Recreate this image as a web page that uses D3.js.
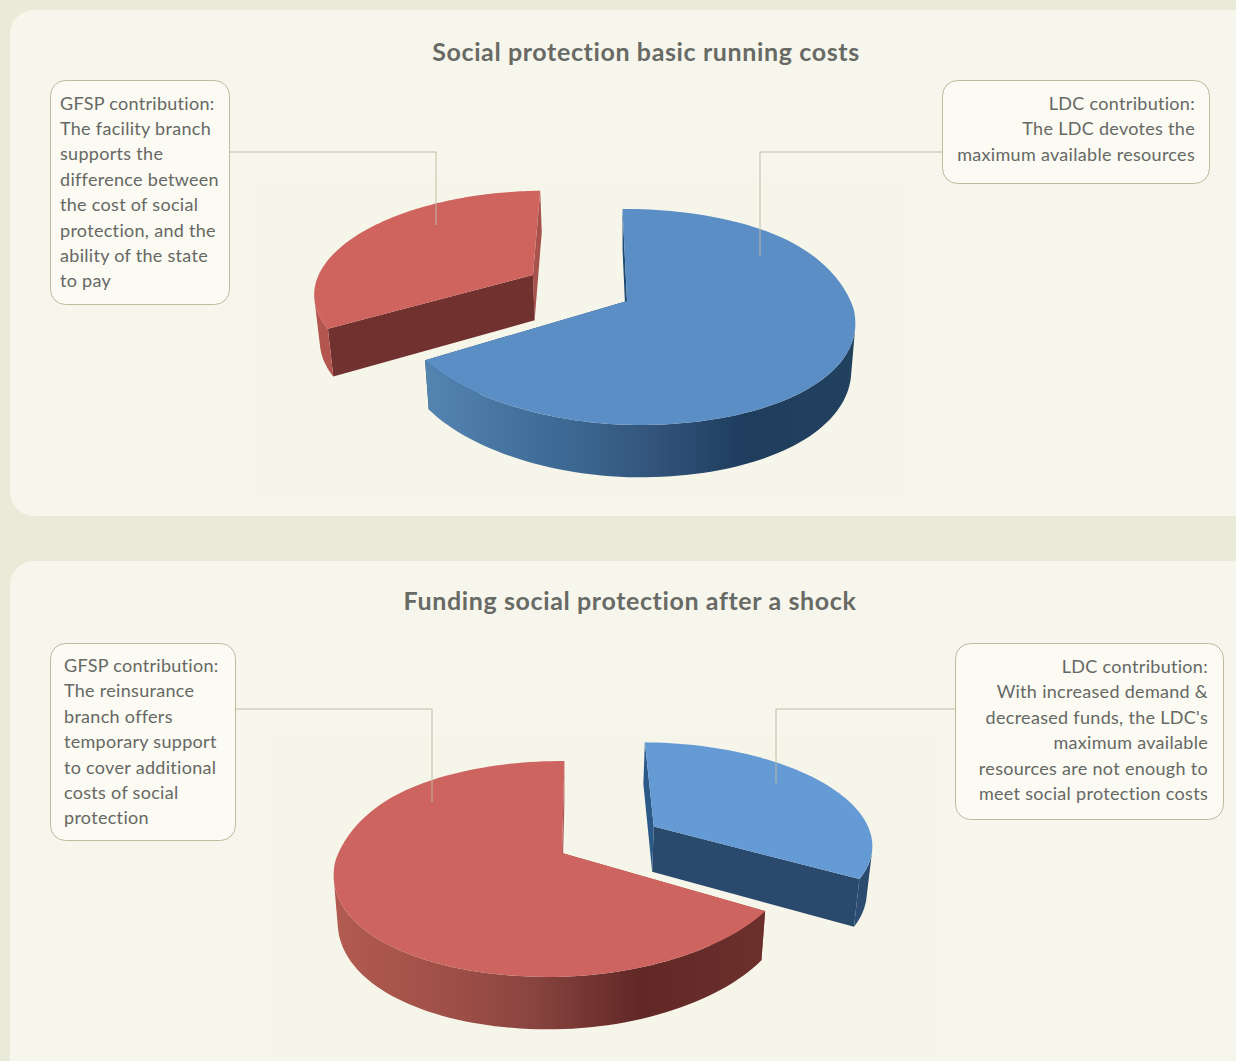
<!DOCTYPE html>
<html>
<head>
<meta charset="utf-8">
<script src="https://cdnjs.cloudflare.com/ajax/libs/d3/7.8.5/d3.min.js"></script>
<style>
html, body { margin: 0; padding: 0; background: #eaead8; overflow: hidden; }
svg { display: block; }
text { font-family: Lato, sans-serif; fill: #666864; }
.title { font-size: 25px; font-weight: 700; letter-spacing: 0.62px; text-anchor: middle; fill: #686a65; }
.note { font-size: 18px; letter-spacing: 0.3px; }
</style>
</head>
<body>
<script>
// values, share of the cost (blue = LDC, red = GFSP)
const titles = ['Social protection basic running costs', 'Funding social protection after a shock']
const ldcValues = [66.7, 33.3]
const gfspValues = [33.3, 66.7]

const gfspNotes = [
    ['GFSP contribution:', 'The facility branch', 'supports the', 'difference between', 'the cost of social', 'protection, and the', 'ability of the state', 'to pay'],
    ['GFSP contribution:', 'The reinsurance', 'branch offers', 'temporary support', 'to cover additional', 'costs of social', 'protection']
]
const ldcNotes = [
    ['LDC contribution:', 'The LDC devotes the', 'maximum available resources'],
    ['LDC contribution:', 'With increased demand &', 'decreased funds, the LDC\'s', 'maximum available', 'resources are not enough to', 'meet social protection costs']
]

const width = 1236, height = 1061
const svg = d3.select('body').append('svg').attr('width', width).attr('height', height)
const defs = svg.append('defs')

// cards behind each panel
const cards = [{y: 10, h: 506}, {y: 561, h: 540}]
svg.selectAll('rect.card').data(cards).enter().append('rect')
    .attr('class', 'card')
    .attr('x', 10).attr('y', d => d.y)
    .attr('width', 1260).attr('height', d => d.h)
    .attr('rx', 24)
    .attr('fill', '#f7f6ec')

// layout of each panel
const panels = [
    {
        titleX: 646, titleY: 61,
        back: {x: 250, y: 180, w: 660, h: 320},
        cx: 627, cy: 301, start: -1.3, tilt: 1,
        explode: {blue: null, red: [-0.43, -0.255]},
        topBlue: '#5c8ec6', topRed: '#cf645f',
        cutBlue: '#1f4a73', cutRed: ['#a8524e', '#71312e'],
        wallBlue: [[424, '#5484b0'], [560, '#3d6a95'], [650, '#33557c'], [740, '#1f3e5f'], [855, '#22415f']],
        wallRed: [[317, '#b5554f'], [340, '#b5554f']],
        gfsp: {x: 50, y: 80, w: 179, h: 224, tx: 60, ty: 109.5, anchor: 'start', lead: [[229, 152], [436, 152], [436, 225]]},
        ldc: {x: 942, y: 80, w: 267, h: 103, tx: 1195, ty: 110, anchor: 'end', lead: [[942, 152], [760, 152], [760, 256]]}
    },
    {
        titleX: 630, titleY: 610,
        back: {x: 270, y: 735, w: 670, h: 320},
        cx: 562, cy: 853, start: 0.7, tilt: -1,
        explode: {blue: [0.42, -0.26], red: null},
        topBlue: '#659bd5', topRed: '#cd645f',
        cutBlue: ['#2a4a6d', '#2b5a88'], cutRed: '#a8524e',
        wallBlue: [[840, '#2f5278'], [870, '#2a4a6d']],
        wallRed: [[332, '#b25b51'], [450, '#9f4f47'], [530, '#8a4540'], [640, '#612826'], [763, '#6b302c']],
        gfsp: {x: 50, y: 643, w: 185, h: 197, tx: 64, ty: 672, anchor: 'start', lead: [[235, 709], [432, 709], [432, 802]]},
        ldc: {x: 955, y: 643, w: 268, h: 176, tx: 1208, ty: 673, anchor: 'end', lead: [[955, 709], [776, 709], [776, 783]]}
    }
]

const R = 227, Ry = 105.6, k = 0.148, shrink = 0.982, depth = 46.5, depthGrow = 5
const bulgeX = 13, bulgeY = 10
const line = d3.line()

panels.forEach((p, i) => {
    svg.append('rect')
        .attr('x', p.back.x).attr('y', p.back.y)
        .attr('width', p.back.w).attr('height', p.back.h)
        .attr('fill', '#f6f5ea')

    svg.append('text').attr('class', 'title')
        .attr('x', p.titleX).attr('y', p.titleY)
        .text(titles[i])

    // pie angles, blue first then red, clockwise from the top
    const start = p.start * Math.PI / 180
    const pie = d3.pie().sort(null).startAngle(start).endAngle(start + 2 * Math.PI)
    const slices = pie([ldcValues[i], gfspValues[i]])
    const names = ['Blue', 'Red']

    // ground plane to picture, with a bit of perspective
    const project = (u, v, low) => {
        const s = 1 / (1 - k * v)
        const x = R * u * s, y = Ry * v * s
        if (!low) return [p.cx + x, p.cy + y]
        return [p.cx + x * shrink, p.cy + y + depth + depthGrow * v * s]
    }

    const wallGrad = (name, stops) => {
        const id = 'wall' + name + i
        const g = defs.append('linearGradient').attr('id', id)
            .attr('gradientUnits', 'userSpaceOnUse')
            .attr('x1', stops[0][0]).attr('x2', stops[stops.length - 1][0])
            .attr('y1', 0).attr('y2', 0)
        const off = d3.scaleLinear().domain([stops[0][0], stops[stops.length - 1][0]]).range([0, 1])
        g.selectAll('stop').data(stops).enter().append('stop')
            .attr('offset', d => off(d[0]))
            .attr('stop-color', d => d[1])
        return 'url(#' + id + ')'
    }

    const rise = d3.scaleLinear().domain([-0.8, 0.15]).range([0, 1]).clamp(true)
    const smooth = t => t * t * (3 - 2 * t)

    slices.forEach((s, j) => {
        const name = names[j]
        const exploded = p.explode[name.toLowerCase()]
        const off = exploded || [0, 0]
        const point = (a, low) => {
            const u = Math.sin(a), v = -Math.cos(a)
            if (exploded) return project(off[0] + 0.98 * u, off[1] + 0.98 * v, low)
            // the big slice pulls in towards the front and leans over to one side
            const q = project(u * (1 - 0.045 * Math.max(v, 0)), v, low)
            const side = Math.max(p.tilt * u, 0)
            q[0] += p.tilt * bulgeX * Math.pow(Math.max(v, 0), 2)
            q[1] += bulgeY * side * side * smooth(rise(v))
            return q
        }
        const apex = low => project(off[0], off[1], low)
        const angles = d3.range(0, 121).map(t => s.startAngle + (s.endAngle - s.startAngle) * t / 120)
        const g = svg.append('g')

        // cut faces
        const cut = p['cut' + name]
        const cuts = Array.isArray(cut) ? cut : [cut, cut]
        const faces = [s.endAngle, s.startAngle]
        faces.forEach((a, n) => {
            g.append('path')
                .attr('d', line([apex(false), point(a, false), point(a, true), apex(true)]) + 'Z')
                .attr('fill', cuts[n])
        })

        // outer wall, only the pieces that face the viewer
        const rimTop = angles.map(a => point(a, false))
        const rimBase = angles.map(a => point(a, true))
        let wall = ''
        d3.pairs(d3.range(angles.length)).forEach(([m, n]) => {
            const quad = [rimTop[m], rimTop[n], rimBase[n], rimBase[m]]
            if (d3.polygonArea(quad) > 0) wall += line(quad) + 'Z'
        })
        g.append('path')
            .attr('d', wall)
            .attr('fill', wallGrad(name, p['wall' + name]))

        // top face
        g.append('path')
            .attr('d', line([apex(false)].concat(rimTop)) + 'Z')
            .attr('fill', p['top' + name])
    })

    // callouts
    const notes = [[p.gfsp, gfspNotes[i]], [p.ldc, ldcNotes[i]]]
    notes.forEach(([b, lines]) => {
        svg.append('path')
            .attr('d', line(b.lead))
            .attr('fill', 'none')
            .attr('stroke', '#bfbca2')
            .attr('stroke-width', 1)
        svg.append('rect')
            .attr('x', b.x + 0.5).attr('y', b.y + 0.5)
            .attr('width', b.w).attr('height', b.h)
            .attr('rx', 15)
            .attr('fill', '#fbfaf3')
            .attr('stroke', '#c1ba9e')
        svg.append('g').selectAll('text').data(lines).enter().append('text')
            .attr('class', 'note')
            .attr('x', b.tx)
            .attr('y', (d, n) => b.ty + n * 25.4)
            .attr('text-anchor', b.anchor)
            .text(d => d)
    })
})
</script>
</body>
</html>
